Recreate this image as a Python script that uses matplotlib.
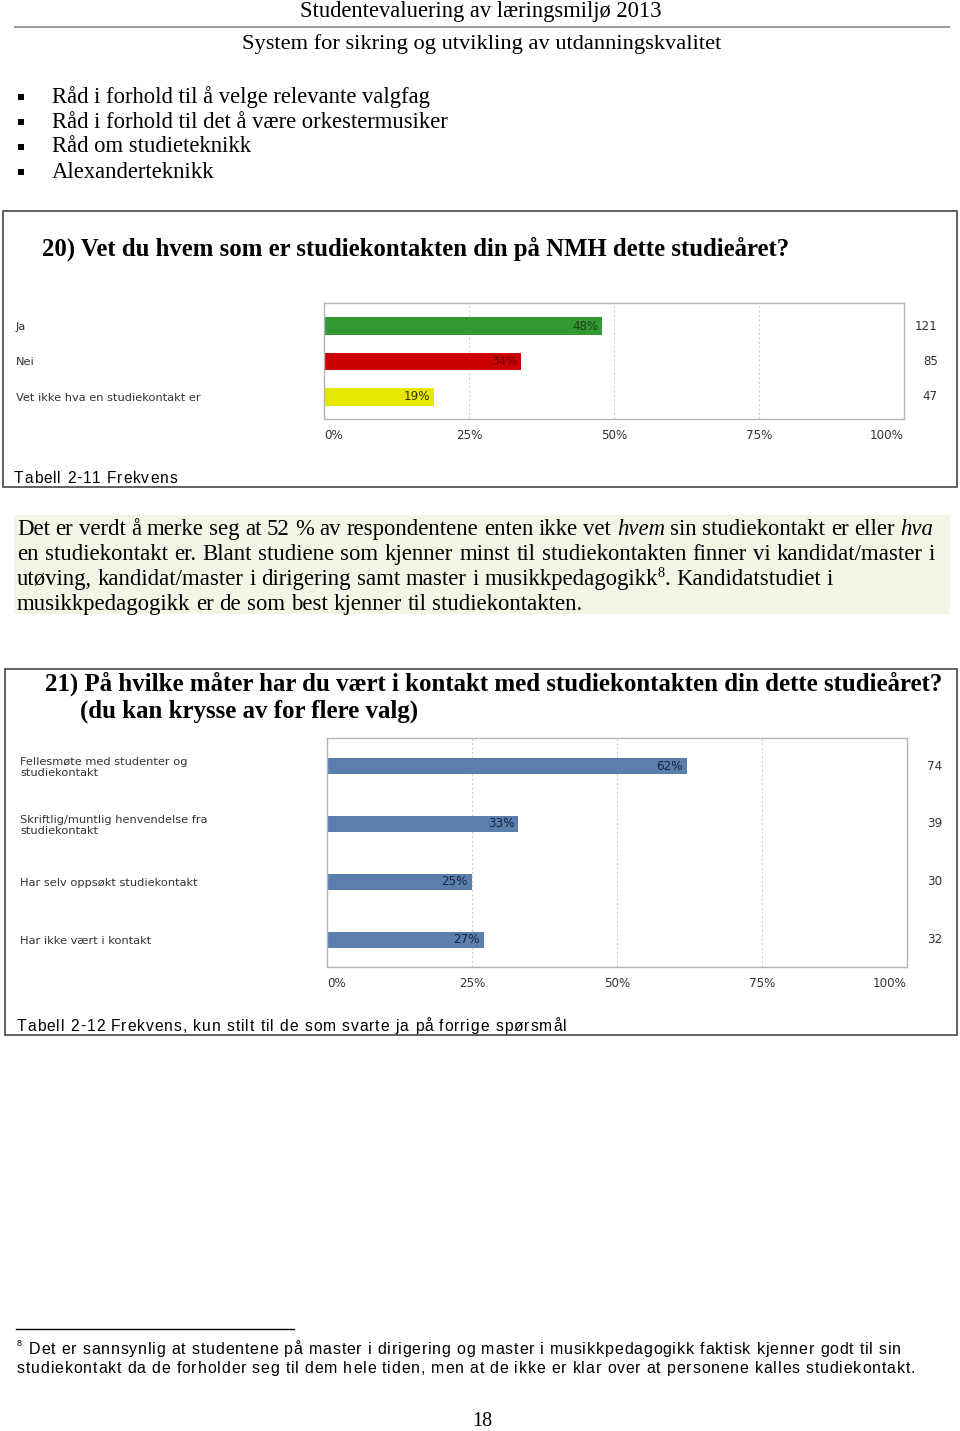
import matplotlib
matplotlib.use("Agg")
import matplotlib.pyplot as plt
from matplotlib.patches import Rectangle

# ---------------- data ----------------
header_lines = ["Studentevaluering av læringsmiljø 2013",
                "System for sikring og utvikling av utdanningskvalitet"]
bullets = ["Råd i forhold til å velge relevante valgfag",
           "Råd i forhold til det å være orkestermusiker",
           "Råd om studieteknikk",
           "Alexanderteknikk"]

q1_title = "20) Vet du hvem som er studiekontakten din på NMH dette studieåret?"
q1_categories = ["Ja", "Nei", "Vet ikke hva en studiekontakt er"]
q1_percent = [48, 34, 19]
q1_counts = [121, 85, 47]
q1_colors = ["#339933", "#cc0000", "#e6e600"]
q1_label_colors = ["#1f3d1f", "#6a0000", "#333300"]
q1_caption = "Tabell 2-11 Frekvens"

tick_values = [0, 25, 50, 75, 100]
tick_labels = ["0%", "25%", "50%", "75%", "100%"]

paragraph = [
    "Det er verdt å merke seg at 52 % av respondentene enten ikke vet *hvem* sin studiekontakt er eller *hva*",
    "en studiekontakt er. Blant studiene som kjenner minst til studiekontakten finner vi kandidat/master i",
    "utøving, kandidat/master i dirigering samt master i musikkpedagogikk^8. Kandidatstudiet i",
    "musikkpedagogikk er de som best kjenner til studiekontakten.",
]

q2_title = ["21) På hvilke måter har du vært i kontakt med studiekontakten din dette studieåret?",
            "(du kan krysse av for flere valg)"]
q2_categories = ["Fellesmøte med studenter og\nstudiekontakt",
                 "Skriftlig/muntlig henvendelse fra\nstudiekontakt",
                 "Har selv oppsøkt studiekontakt",
                 "Har ikke vært i kontakt"]
q2_percent = [62, 33, 25, 27]
q2_counts = [74, 39, 30, 32]
q2_color = "#5a7fac"
q2_caption = "Tabell 2-12 Frekvens, kun stilt til de som svarte ja på forrige spørsmål"

footnote_mark = "8"
footnote_lines = ["Det er sannsynlig at studentene på master i dirigering og master i musikkpedagogikk faktisk kjenner godt til sin",
                  "studiekontakt da de forholder seg til dem hele tiden, men at de ikke er klar over at personene kalles studiekontakt."]
page_number = "18"

# ---------------- page ----------------
W, H = 960, 1431
fig = plt.figure(figsize=(W / 100, H / 100), dpi=100)
page = fig.add_axes([0, 0, 1, 1])
page.set_xlim(0, W)
page.set_ylim(H, 0)
page.axis("off")
renderer = fig.canvas.get_renderer()

SERIF = "Liberation Serif"
SANS = "DejaVu Sans"
ARIAL = "Liberation Sans"


def measure(s, size, family, weight="normal", style="normal"):
    t = page.text(0, 0, s, fontsize=size, family=family, weight=weight, style=style)
    w = t.get_window_extent(renderer).width
    t.remove()
    return w


def advance(c, size, family):
    return measure("x" + c + "x", size, family) - measure("xx", size, family)


def fit_size(s, target, family, weight="normal", style="normal", base=20.0):
    return base * target / measure(s, base, family, weight, style)


def put(x, y, s, size, family=SERIF, weight="normal", style="normal", ha="left", va="center", color="black"):
    page.text(x, y, s, fontsize=size, family=family, weight=weight, style=style,
              ha=ha, va=va, color=color)


def tracked(x, y, s, target, spacing, family=ARIAL, color="black"):
    base = 10.0
    nat = sum(advance(c, base, family) for c in s)
    size = base * (target - spacing * (len(s) - 1)) / nat
    ws = [advance(c, size, family) for c in s]
    extra = (target - sum(ws)) / (len(s) - 1)
    for c, w in zip(s, ws):
        if c != " ":
            page.text(x, y, c, fontsize=size, family=family, ha="left", va="baseline", color=color)
        x += w + extra
    return size


# header
s = fit_size(header_lines[0], 362, SERIF)
put(481, 11, header_lines[0], s, ha="center")
page.plot([14, 950], [27, 27], color="#9a9a9a", lw=1.4, solid_capstyle="butt")
s = fit_size(header_lines[1], 478, SERIF)
put(482, 44, header_lines[1], s, ha="center")

# bullets
s = fit_size(bullets[1], 396, SERIF)
for i, b in enumerate(bullets):
    yc = 97 + 25 * i
    page.add_patch(Rectangle((18, yc - 3), 6, 6, fc="black", ec="none"))
    put(52, yc, b, s)

# box 1
page.add_patch(Rectangle((3, 211), 954, 276, fill=False, ec="#555555", lw=1.3))
s = fit_size(q1_title, 746, SERIF, weight="bold")
put(42, 249, q1_title, s, weight="bold")
tracked(14, 483, q1_caption, 163, 0.9)

# paragraph
page.add_patch(Rectangle((14, 515), 936, 99, fc="#f4f5e7", ec="none"))
psize = fit_size(paragraph[3], 563, SERIF)
space_w = measure("a a", psize, SERIF) - measure("aa", psize, SERIF)
ppx = psize * 100 / 72


def parse_word(w):
    segs = []
    if w.startswith("*") and w.endswith("*"):
        return [(w.strip("*"), "italic", False)]
    if "^" in w:
        a, rest = w.split("^", 1)
        segs.append((a, "normal", False))
        segs.append((rest[0], "normal", True))
        if rest[1:]:
            segs.append((rest[1:], "normal", False))
        return segs
    return [(w, "normal", False)]


justify = [916, 918, None, None]
for li, line in enumerate(paragraph):
    yb = 528 + 25 * li + 0.3 * ppx
    words = [parse_word(w) for w in line.split(" ")]
    widths = []
    for wd in words:
        ww = 0
        for txt, st, sup in wd:
            ww += measure(txt, psize * (0.62 if sup else 1), SERIF, style=st)
        widths.append(ww)
    if justify[li]:
        gap = (justify[li] - sum(widths)) / (len(words) - 1)
    else:
        gap = space_w
    x = 17
    for wd in words:
        for txt, st, sup in wd:
            sz = psize * (0.62 if sup else 1)
            page.text(x, yb - (0.35 * ppx if sup else 0), txt, fontsize=sz, family=SERIF,
                      style=st, ha="left", va="baseline")
            x += measure(txt, sz, SERIF, style=st)
        x += gap

# box 2
page.add_patch(Rectangle((5, 669), 952, 366, fill=False, ec="#555555", lw=1.3))
s = fit_size(q2_title[0], 899, SERIF, weight="bold")
put(45, 684, q2_title[0], s, weight="bold")
put(80, 711, q2_title[1], s, weight="bold")
tracked(17, 1031, q2_caption, 549, 0.9)

# footnote
page.plot([16, 294], [1329, 1329], color="black", lw=1.0)
put(17, 1343, footnote_mark, 6.5, family=ARIAL)
tracked(29, 1354, footnote_lines[0], 872, 0.8)
tracked(17, 1373, footnote_lines[1], 898, 0.8)

# page number
s = fit_size(page_number, 20, SERIF)
put(482, 1421, page_number, s, ha="center")

# ---------------- charts ----------------
label_size = fit_size(q1_categories[2], 184, SANS)
tick_size = fit_size("100%", 34, SANS)
TXT = "#333333"


def style_chart(ax):
    ax.set_xlim(0, 100)
    ax.set_xticks(tick_values)
    ax.set_xticklabels(tick_labels, fontsize=tick_size, color=TXT, family=SANS)
    lbls = ax.get_xticklabels()
    lbls[0].set_ha("left")
    lbls[-1].set_ha("right")
    ax.tick_params(axis="x", length=0, pad=7)
    ax.xaxis.grid(True, color="#cfcfcf", lw=0.8, ls=(0, (2, 2)))
    ax.set_axisbelow(True)
    for sp in ax.spines.values():
        sp.set_color("#b5b5b5")
        sp.set_linewidth(1.0)


# chart 1
ax1 = fig.add_axes([324 / W, 1 - 419 / H, 580 / W, 116 / H])
y1 = list(range(len(q1_categories)))
ax1.barh(y1, q1_percent, height=0.49, color=q1_colors, zorder=2)
ax1.set_ylim(2.62, -0.648)
style_chart(ax1)
ax1.tick_params(axis="y", length=0, pad=(324 - 16) * 0.72)
ax1.set_yticks(y1)
ax1.set_yticklabels(q1_categories, ha="left", fontsize=label_size, color=TXT, family=SANS)
for i, (p, n) in enumerate(zip(q1_percent, q1_counts)):
    ax1.text(p - 0.7, i, f"{p}%", ha="right", va="center", fontsize=tick_size,
             color=q1_label_colors[i], family=SANS, zorder=3)
    ax1.text((938 - 324) / 580, i, str(n), transform=ax1.get_yaxis_transform(),
             ha="right", va="center", fontsize=tick_size, color=TXT, family=SANS)

# chart 2
ax2 = fig.add_axes([327 / W, 1 - 967 / H, 580 / W, 229 / H])
y2 = list(range(len(q2_categories)))
ax2.barh(y2, q2_percent, height=0.29, color=q2_color, zorder=2)
ax2.set_ylim(3.466, -0.483)
style_chart(ax2)
ax2.tick_params(axis="y", length=0, pad=(327 - 20) * 0.72)
ax2.set_yticks(y2)
ax2.set_yticklabels(q2_categories, ha="left", fontsize=label_size, color=TXT, family=SANS,
                    linespacing=1.15)
for i, (p, n) in enumerate(zip(q2_percent, q2_counts)):
    ax2.text(p - 0.7, i, f"{p}%", ha="right", va="center", fontsize=tick_size,
             color="#13233d", family=SANS, zorder=3)
    ax2.text((942 - 327) / 580, i, str(n), transform=ax2.get_yaxis_transform(),
             ha="right", va="center", fontsize=tick_size, color=TXT, family=SANS)

fig.savefig("out.png", dpi=100)
